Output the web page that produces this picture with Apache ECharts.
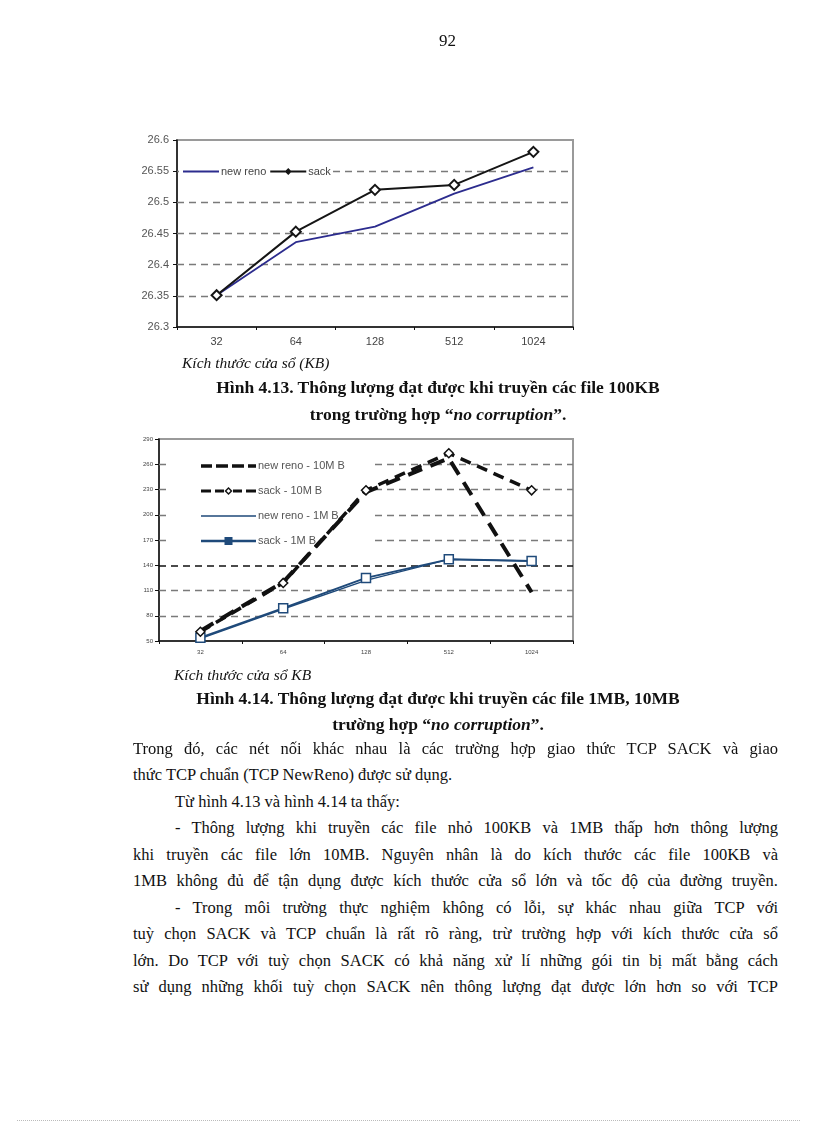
<!DOCTYPE html>
<html><head><meta charset="utf-8">
<script src="https://cdn.jsdelivr.net/npm/echarts@6/dist/echarts.min.js"></script>
<style>
html,body{margin:0;padding:0;background:#fff;}
#page{position:relative;width:816px;height:1123px;overflow:hidden;background:#fff;}
#chart{position:absolute;left:0;top:0;width:816px;height:700px;}
.t{position:absolute;font-family:"Liberation Serif","DejaVu Serif",serif;color:#111;white-space:nowrap;}
.line{position:absolute;font-family:"Liberation Serif",serif;font-size:16.5px;color:#111;white-space:nowrap;text-align:justify;text-align-last:justify;}
.last{text-align-last:left;}
.cap{font-weight:bold;font-size:17.5px;text-align:center;width:600px;left:138px;}
.ax{font-size:15.5px;font-style:italic;}
#dots{position:absolute;left:17px;right:16px;top:1120px;border-top:1px dotted #bbb;}
</style></head>
<body><div id="page">
<div id="chart"></div>
<div class="t" style="left:439px;top:31px;font-size:17px;">92</div>
<div class="t ax" style="left:182px;top:354px;">Kích thước cửa sổ (KB)</div>
<div class="t cap" style="top:377px;">Hình 4.13. Thông lượng đạt được khi truyền các file 100KB</div>
<div class="t cap" style="top:404px;">trong trường hợp “<i>no corruption</i>”.</div>
<div class="t ax" style="left:174px;top:666px;">Kích thước cửa sổ KB</div>
<div class="t cap" style="top:688px;">Hình 4.14. Thông lượng đạt được khi truyền các file 1MB, 10MB</div>
<div class="t cap" style="top:714px;">trường hợp “<i>no corruption</i>”.</div>
<div id="body"></div>
<div id="dots"></div>
</div>
<script>
// ---- data ----
var categories = ['32', '64', '128', '512', '1024'];
// Figure 4.13 (100KB)
var newReno100K = [26.351, 26.436, 26.461, 26.514, 26.556];
var sack100K = [26.351, 26.453, 26.520, 26.528, 26.581];
var yTicks1 = [26.3, 26.35, 26.4, 26.45, 26.5, 26.55, 26.6];
// Figure 4.14 (1MB, 10MB)
var newReno10M = [62, 120, 227, 267, 108];
var sack10M = [61, 119, 229, 273, 229];
var newReno1M = [53, 88, 122, 147, 145];
var sack1M = [54, 89, 125, 147, 145];
var yTicks2 = [50, 80, 110, 140, 170, 200, 230, 260, 290];

var bodyLines = [
  ['Trong đó, các nét nối khác nhau là các trường hợp giao thức TCP SACK và giao', 0, true],
  ['thức TCP chuẩn (TCP NewReno) được sử dụng.', 0, false],
  ['Từ hình 4.13 và hình 4.14 ta thấy:', 1, false],
  ['- Thông lượng khi truyền các file nhỏ 100KB và 1MB thấp hơn thông lượng', 1, true],
  ['khi truyền các file lớn 10MB. Nguyên nhân là do kích thước các file 100KB và', 0, true],
  ['1MB không đủ để tận dụng được kích thước cửa sổ lớn và tốc độ của đường truyền.', 0, true],
  ['- Trong môi trường thực nghiệm không có lỗi, sự khác nhau giữa TCP với', 1, true],
  ['tuỳ chọn SACK và TCP chuẩn là rất rõ ràng, trừ trường hợp với kích thước cửa sổ', 0, true],
  ['lớn. Do TCP với tuỳ chọn SACK có khả năng xử lí những gói tin bị mất bằng cách', 0, true],
  ['sử dụng những khối tuỳ chọn SACK nên thông lượng đạt được lớn hơn so với TCP', 0, true]
];
// ---- body text ----
var bodyEl = document.getElementById('body');
bodyLines.forEach(function (l, i) {
  var d = document.createElement('div');
  d.className = 'line' + (l[2] ? '' : ' last');
  var left = l[1] ? 175 : 133;
  d.style.left = left + 'px';
  d.style.top = (739 + i * 26.45) + 'px';
  if (l[2]) d.style.width = (778 - left) + 'px';
  d.textContent = l[0];
  bodyEl.appendChild(d);
});

// ---- legend icons (paths sized to the legend item box) ----
function box(w, h) { return 'M0,0L0.01,0L0,0.01Z M' + w + ',' + h + 'L' + (w - 0.01) + ',' + h + 'L' + w + ',' + (h - 0.01) + 'Z '; }
function rect(x0, x1, y0, y1) { return 'M' + x0 + ',' + y0 + 'L' + x1 + ',' + y0 + 'L' + x1 + ',' + y1 + 'L' + x0 + ',' + y1 + 'Z '; }
var icNewReno = 'path://' + box(36, 10) + rect(0, 36, 4, 6);
var icSack = 'path://' + box(36, 10) + rect(0, 36, 4, 6) + 'M18,1.5L21.5,5L18,8.5L14.5,5Z';
var icNr10 = 'path://' + box(55, 12) + rect(0, 11, 4.3, 7.7) + rect(15, 27, 4.3, 7.7) + rect(31, 43, 4.3, 7.7) + rect(47, 55, 4.3, 7.7);
var icSack10 = 'path://' + box(55, 12) + rect(0, 10, 4.5, 7.5) + rect(14, 23, 4.5, 7.5) + rect(32, 41, 4.5, 7.5) + rect(45, 55, 4.5, 7.5) +
  'M27.5,2L31.5,6L27.5,10L23.5,6Z M27.5,4L25.5,6L27.5,8L29.5,6Z';
var icNr1 = 'path://' + box(55, 12) + rect(0, 55, 5.3, 6.7);
var icSack1 = 'path://' + box(55, 12) + rect(0, 55, 4.8, 7.2) + rect(23.5, 31.5, 2, 10);

// ---- charts ----
var chart = echarts.init(document.getElementById('chart'), null, {renderer: 'canvas'});
var sans = 'Liberation Sans, Arial, sans-serif';
function gridLines(ticks, dark) {
  return ticks.slice(1, ticks.length - 1).map(function (v) {
    return {yAxis: v, lineStyle: {type: [7, 5], color: (v === dark ? '#111' : '#7a7a7a'), width: (v === dark ? 1.6 : 1.3)}};
  });
}
var option = {
  animation: false,
  backgroundColor: '#fff',
  grid: [
    {left: 177, top: 140, width: 396, height: 187, show: true, borderColor: '#9a9a9a', borderWidth: 2, backgroundColor: 'transparent'},
    {left: 159, top: 439, width: 414, height: 202, show: true, borderColor: '#9a9a9a', borderWidth: 2, backgroundColor: 'transparent'}
  ],
  xAxis: [
    {type: 'category', gridIndex: 0, data: categories, boundaryGap: true,
      axisLine: {lineStyle: {color: '#111', width: 1.5}},
      axisTick: {show: true, length: 3, lineStyle: {color: '#111'}},
      axisLabel: {color: '#444', fontFamily: sans, fontSize: 11, margin: 9}},
    {type: 'category', gridIndex: 1, data: categories, boundaryGap: true,
      axisLine: {lineStyle: {color: '#111', width: 1.5}},
      axisTick: {show: true, length: 3, lineStyle: {color: '#111'}},
      axisLabel: {color: '#444', fontFamily: sans, fontSize: 6, margin: 8}}
  ],
  yAxis: [
    {type: 'value', gridIndex: 0, min: 26.3, max: 26.6, interval: 0.05,
      axisLine: {show: true, lineStyle: {color: '#111', width: 1.5}},
      axisTick: {show: true, length: 4, lineStyle: {color: '#111'}},
      splitLine: {show: false},
      axisLabel: {color: '#555', fontFamily: sans, fontSize: 11, margin: 8,
        formatter: function (v) { return String(Math.round(v * 100) / 100); }}},
    {type: 'value', gridIndex: 1, min: 50, max: 290,
      axisLine: {show: true, lineStyle: {color: '#111', width: 1.5}},
      axisTick: {show: true, length: 4, lineStyle: {color: '#111'}, customValues: yTicks2},
      splitLine: {show: false},
      axisLabel: {color: '#444', fontFamily: sans, fontSize: 6, margin: 6, customValues: yTicks2}}
  ],
  legend: [
    {left: 179, top: 163, orient: 'horizontal', itemGap: 4, itemWidth: 36, itemHeight: 10,
      backgroundColor: '#fff', padding: [3, 2, 3, 4],
      textStyle: {fontFamily: sans, fontSize: 11, color: '#444', padding: [0, 0, 0, -3]},
      data: [
        {name: 'new reno', icon: icNewReno, itemStyle: {color: '#2c2c8e', borderWidth: 0}},
        {name: 'sack', icon: icSack, itemStyle: {color: '#151515', borderWidth: 0}}
      ]},
    {left: 168, top: 451, orient: 'vertical', itemGap: 13, itemWidth: 55, itemHeight: 12,
      backgroundColor: '#fff', padding: [9, 30, 8, 33],
      textStyle: {fontFamily: sans, fontSize: 11, color: '#555', padding: [0, 0, 0, -3]},
      data: [
        {name: 'new reno - 10M B', icon: icNr10, itemStyle: {color: '#111', borderWidth: 0}},
        {name: 'sack - 10M B', icon: icSack10, itemStyle: {color: '#111', borderWidth: 0}},
        {name: 'new reno - 1M B', icon: icNr1, itemStyle: {color: '#1f4a7a', borderWidth: 0}},
        {name: 'sack - 1M B', icon: icSack1, itemStyle: {color: '#1f4a7a', borderWidth: 0}}
      ]}
  ],
  series: [
    {name: 'new reno', type: 'line', xAxisIndex: 0, yAxisIndex: 0, data: newReno100K,
      symbol: 'none', lineStyle: {color: '#2c2c8e', width: 1.8}, itemStyle: {color: '#2c2c8e'},
      z: 3,
      markLine: {silent: true, symbol: 'none', label: {show: false}, z: 1, data: gridLines(yTicks1, null)}},
    {name: 'sack', type: 'line', xAxisIndex: 0, yAxisIndex: 0, data: sack100K,
      symbol: 'diamond', symbolSize: 10, z: 4,
      lineStyle: {color: '#151515', width: 2}, itemStyle: {color: '#fff', borderColor: '#151515', borderWidth: 2}},
    {name: 'new reno - 10M B', type: 'line', xAxisIndex: 1, yAxisIndex: 1, data: newReno10M,
      symbol: 'none', z: 4, lineStyle: {color: '#111', width: 4, type: [15, 9]}, itemStyle: {color: '#111'},
      markLine: {silent: true, symbol: 'none', label: {show: false}, z: 1, data: gridLines(yTicks2, 140)}},
    {name: 'sack - 10M B', type: 'line', xAxisIndex: 1, yAxisIndex: 1, data: sack10M,
      symbol: 'diamond', symbolSize: 9, z: 4,
      lineStyle: {color: '#111', width: 3.5, type: [11, 7]}, itemStyle: {color: '#fff', borderColor: '#111', borderWidth: 1.5}},
    {name: 'new reno - 1M B', type: 'line', xAxisIndex: 1, yAxisIndex: 1, data: newReno1M,
      symbol: 'none', z: 3, lineStyle: {color: '#1f4a7a', width: 1.4}, itemStyle: {color: '#1f4a7a'}},
    {name: 'sack - 1M B', type: 'line', xAxisIndex: 1, yAxisIndex: 1, data: sack1M,
      symbol: 'rect', symbolSize: 9, z: 3,
      lineStyle: {color: '#1f4a7a', width: 2}, itemStyle: {color: '#fff', borderColor: '#1f4a7a', borderWidth: 1.5}}
  ]
};
chart.setOption(option);
</script>
</body></html>
